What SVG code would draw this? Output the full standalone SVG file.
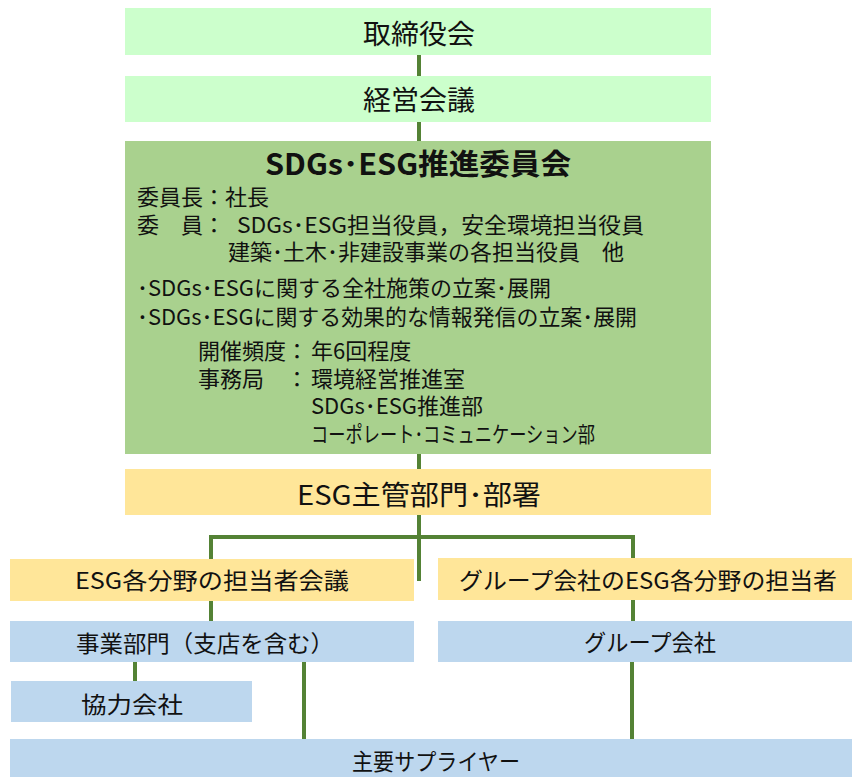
<svg xmlns="http://www.w3.org/2000/svg" width="852" height="777" viewBox="0 0 852 777">
<style>
text{font-family:"Noto Sans CJK JP","Noto Sans",sans-serif;fill:#111;}
.g1{fill:#CCFFCC;}
.g2{fill:#A9D18E;}
.y{fill:#FFE699;}
.b{fill:#BDD7EE;}
.big{font-size:27px;}
.t{font-size:22px;}
.m{font-size:23px;}
.c{text-anchor:middle;}
.ln{stroke:#548235;stroke-width:4;fill:none;}
</style>
<rect width="852" height="777" fill="#fff"/>
<g id="connectors">
<line class="ln" x1="419" y1="55" x2="419" y2="76"/>
<line class="ln" x1="419" y1="122" x2="419" y2="141"/>
<line class="ln" x1="419" y1="454" x2="419" y2="469"/>
<line class="ln" x1="419" y1="515" x2="419" y2="581"/>
<polyline class="ln" points="211,560 211,537 633,537 633,559"/>
<line class="ln" x1="211" y1="601" x2="211" y2="622"/>
<line class="ln" x1="633" y1="600" x2="633" y2="622"/>
<line class="ln" x1="135" y1="661" x2="135" y2="682"/>
<line class="ln" x1="304" y1="661" x2="304" y2="740"/>
<line class="ln" x1="632" y1="661" x2="632" y2="740"/>
</g>
<g id="torishimariyakukai">
<rect class="g1" x="125" y="8" width="586" height="47"/>
<text class="big c" x="419" y="44" textLength="112" lengthAdjust="spacingAndGlyphs">取締役会</text>
</g>
<g id="keiei-kaigi">
<rect class="g1" x="125" y="76" width="586" height="46"/>
<text class="big c" x="419" y="110" textLength="112" lengthAdjust="spacingAndGlyphs">経営会議</text>
</g>
<g id="sdgs-esg-iinkai">
<rect class="g2" x="125" y="141" width="586" height="313"/>
<text class="c" x="418" y="175" font-size="29" font-weight="bold" textLength="306" lengthAdjust="spacingAndGlyphs">SDGs･ESG推進委員会</text>
<text class="t"><tspan x="137" y="205">委員長：社長</tspan><tspan x="137" y="233">委　員：</tspan><tspan x="237" y="233" textLength="407" lengthAdjust="spacingAndGlyphs">SDGs･ESG担当役員，安全環境担当役員</tspan><tspan x="228" y="260" textLength="396" lengthAdjust="spacingAndGlyphs">建築･土木･非建設事業の各担当役員　他</tspan></text>
<text class="t"><tspan x="137" y="296" textLength="414" lengthAdjust="spacingAndGlyphs">･SDGs･ESGに関する全社施策の立案･展開</tspan><tspan x="137" y="325" textLength="500" lengthAdjust="spacingAndGlyphs">･SDGs･ESGに関する効果的な情報発信の立案･展開</tspan></text>
<text class="t"><tspan x="198" y="359">開催頻度：</tspan><tspan x="311" y="359">年6回程度</tspan><tspan x="198" y="387">事務局</tspan><tspan x="286" y="387">：</tspan><tspan x="311" y="387">環境経営推進室</tspan><tspan x="311" y="414">SDGs･ESG推進部</tspan><tspan x="311" y="442" textLength="284" lengthAdjust="spacingAndGlyphs">コーポレート･コミュニケーション部</tspan></text>
</g>
<g id="esg-shukan">
<rect class="y" x="125" y="469" width="586" height="46"/>
<text class="big c" x="419" y="505" textLength="244" lengthAdjust="spacingAndGlyphs">ESG主管部門･部署</text>
</g>
<g id="esg-tantousha-kaigi">
<rect class="y" x="10" y="559" width="404" height="42"/>
<text class="m c" x="212" y="589" textLength="274" lengthAdjust="spacingAndGlyphs">ESG各分野の担当者会議</text>
</g>
<g id="group-esg-tantousha">
<rect class="y" x="438" y="558" width="414" height="42"/>
<text class="m c" x="648" y="589" textLength="378" lengthAdjust="spacingAndGlyphs">グループ会社のESG各分野の担当者</text>
</g>
<g id="jigyo-bumon">
<rect class="b" x="10" y="621" width="404" height="41"/>
<text class="m c" x="205" y="652" textLength="258" lengthAdjust="spacingAndGlyphs">事業部門（支店を含む）</text>
</g>
<g id="group-kaisha">
<rect class="b" x="438" y="621" width="414" height="41"/>
<text class="m c" x="650" y="651" textLength="132" lengthAdjust="spacingAndGlyphs">グループ会社</text>
</g>
<g id="kyoryoku-kaisha">
<rect class="b" x="11" y="681" width="241" height="41"/>
<text class="m c" x="132" y="713" textLength="102" lengthAdjust="spacingAndGlyphs">協力会社</text>
</g>
<g id="shuyo-supplier">
<rect class="b" x="10" y="739" width="842" height="38"/>
<text class="m c" x="436" y="770" textLength="168" lengthAdjust="spacingAndGlyphs">主要サプライヤー</text>
</g>
</svg>
